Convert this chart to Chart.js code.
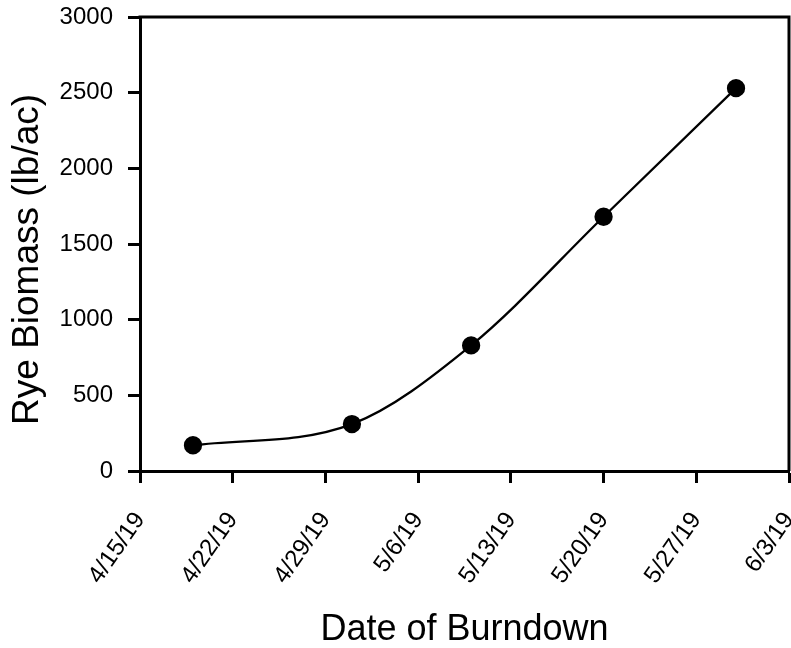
<!DOCTYPE html>
<html>
<head>
<meta charset="utf-8">
<script src="https://cdn.jsdelivr.net/npm/chart.js@4"></script>
<style>
  html, body { margin: 0; padding: 0; background: #fff; }
  #wrap { width: 791px; height: 648px; }
</style>
</head>
<body>
<div id="wrap"><canvas id="chart" width="791" height="648"></canvas></div>
<script>
/* ====== DATA ====== */
const burndownDates = ["2019-04-19", "2019-05-01", "2019-05-10", "2019-05-20", "2019-05-30"];
const ryeBiomass    = [170, 310, 830, 1680, 2530];   // lb/ac
const xTickLabels   = ["4/15/19", "4/22/19", "4/29/19", "5/6/19", "5/13/19", "5/20/19", "5/27/19", "6/3/19"];
const yTickValues   = [0, 500, 1000, 1500, 2000, 2500, 3000];

/* ====== HELPERS ====== */
const DAY = 86400000;
const start = Date.UTC(2019, 3, 15);
const dayOf = (s)=>{ const [y,m,d] = s.split("-").map(Number); return (Date.UTC(y, m-1, d) - start) / DAY; };
const FONT = "'Liberation Sans', Arial, Helvetica, sans-serif";

const points = burndownDates.map((d, i)=>({ x: dayOf(d), y: ryeBiomass[i] }));

// top + right border of the plot frame
const frame = {
  id: "frame",
  afterDraw(chart){
    const { ctx, chartArea: a } = chart;
    ctx.save();
    ctx.strokeStyle = "#000"; ctx.lineWidth = 3;
    ctx.beginPath();
    ctx.moveTo(a.left - 1.5, a.top); ctx.lineTo(a.right, a.top); ctx.lineTo(a.right, a.bottom);
    ctx.stroke();
    ctx.restore();
  }
};

/* ====== CHART ====== */
new Chart(document.getElementById("chart"), {
  type: "line",
  data: {
    datasets: [{
      data: points,
      borderColor: "#000",
      backgroundColor: "#000",
      borderWidth: 2.3,
      pointRadius: 8,
      pointHoverRadius: 8,
      cubicInterpolationMode: "monotone",
      fill: false,
      clip: false
    }]
  },
  options: {
    responsive: false,
    animation: false,
    events: [],
    layout: { autoPadding: false, padding: { top: 17, right: 2, left: 0, bottom: 0 } },
    plugins: { legend: { display: false }, tooltip: { enabled: false } },
    scales: {
      x: {
        type: "linear",
        min: 0, max: 49,
        afterBuildTicks: s => { s.ticks = xTickLabels.map((_, i)=>({ value: i*7 })); },
        afterFit: s => { s.height = 177; s.paddingLeft = 0; s.paddingRight = 0; },
        grid: { drawOnChartArea: false, drawTicks: true, tickLength: 12, tickWidth: 3, tickColor: "#000" },
        border: { display: true, color: "#000", width: 3 },
        ticks: {
          color: "#000",
          font: { family: FONT, size: 24 },
          minRotation: 55, maxRotation: 55,
          padding: 24,
          autoSkip: false,
          callback: (v)=>xTickLabels[Math.round(v/7)] ?? ""
        },
        title: {
          display: true, text: "Date of Burndown", color: "#000",
          font: { family: FONT, size: 36, lineHeight: 1 },
          padding: { top: 0, bottom: 0 }
        }
      },
      y: {
        min: 0, max: 3000,
        afterBuildTicks: s => { s.ticks = yTickValues.map(v=>({ value: v })); },
        afterFit: s => { s.width = 140; s.paddingTop = 0; s.paddingBottom = 0; },
        grid: { drawOnChartArea: false, drawTicks: true, tickLength: 12, tickWidth: 3, tickColor: "#000" },
        border: { display: true, color: "#000", width: 3 },
        ticks: { color: "#000", font: { family: FONT, size: 24 }, padding: 15, callback: v=>String(v) },
        title: {
          display: true, text: "Rye Biomass (lb/ac)   ", color: "#000",
          font: { family: FONT, size: 37, lineHeight: 1 },
          padding: { top: 9, bottom: 0 }
        }
      }
    }
  },
  plugins: [frame]
});
</script>
</body>
</html>
